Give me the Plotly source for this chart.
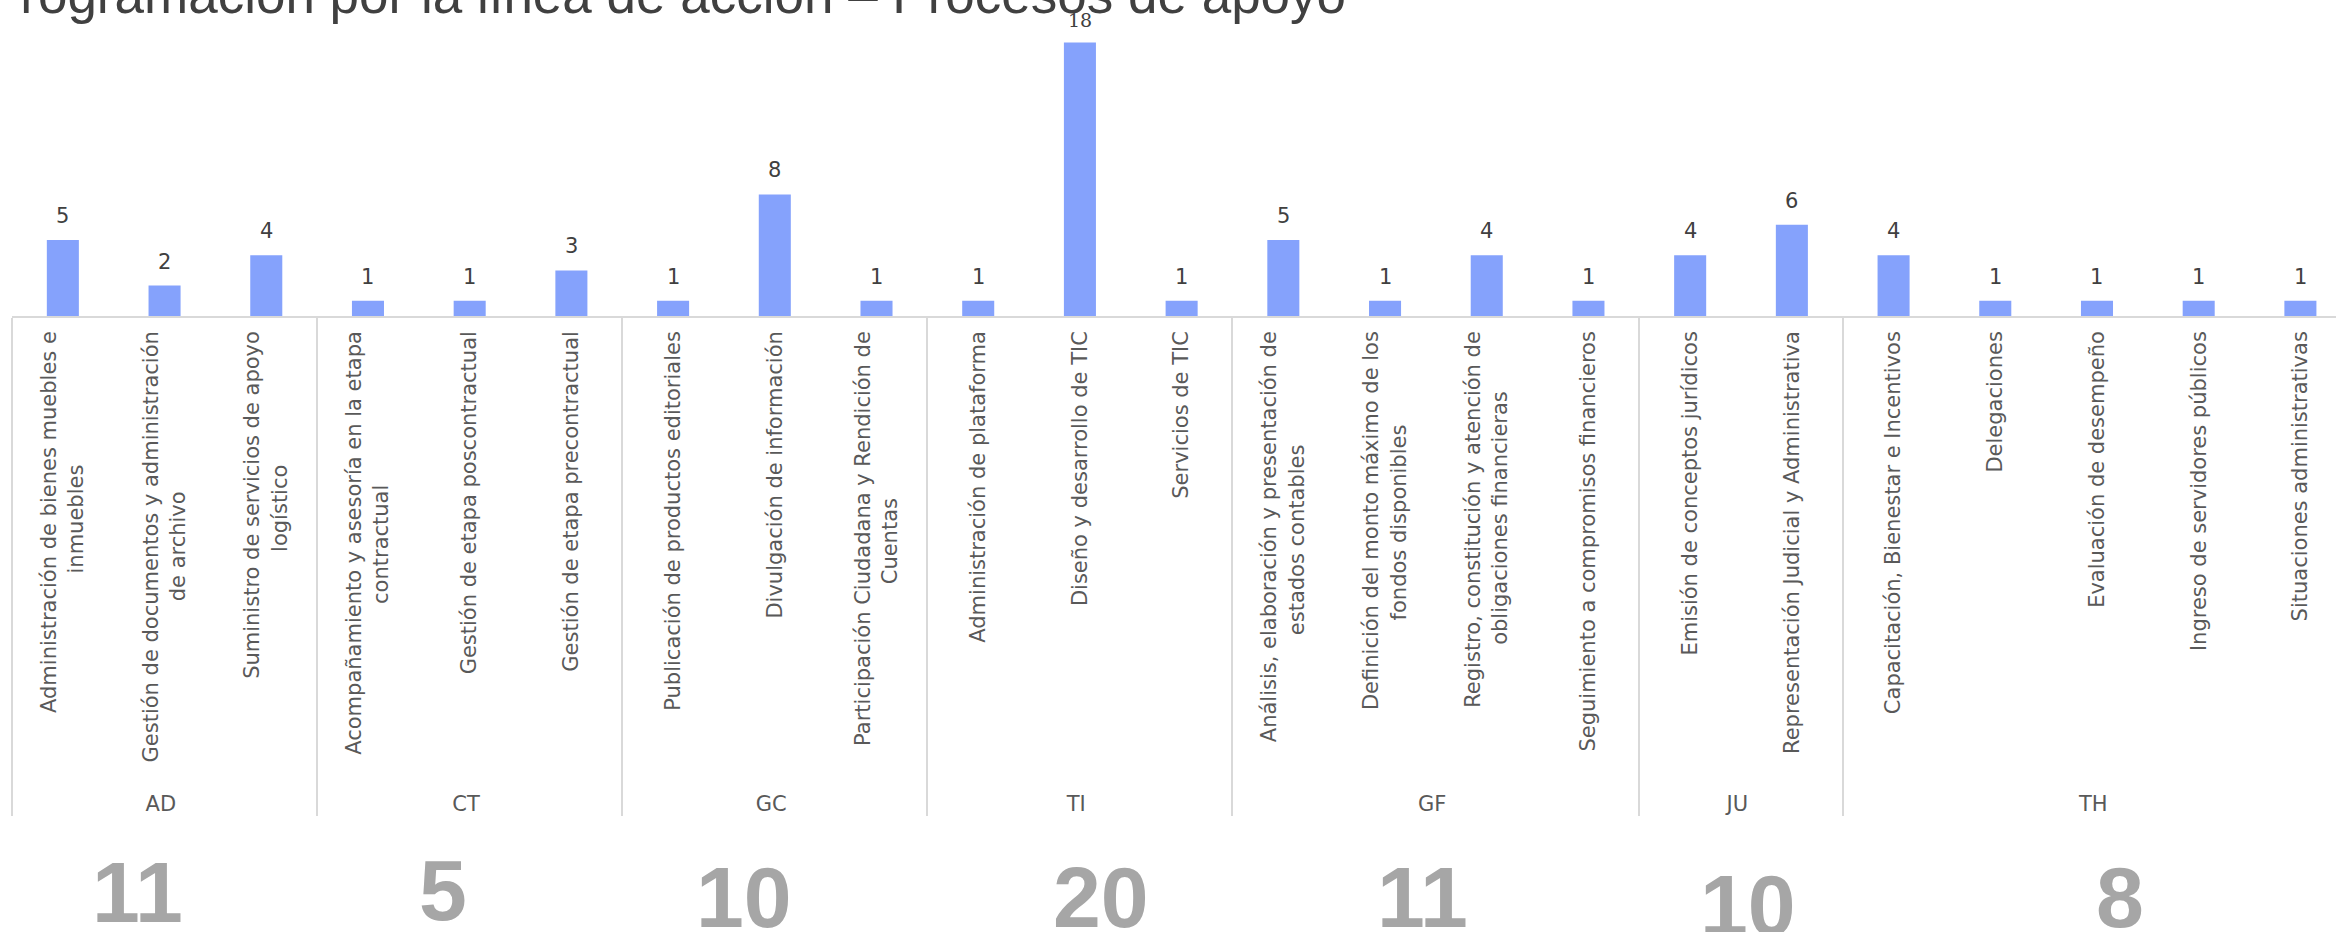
import plotly.graph_objects as go

# ---------------- data ----------------
categories = [
    "Administración de bienes muebles e<br>inmuebles",
    "Gestión de documentos y administración<br>de archivo",
    "Suministro de servicios de apoyo<br>logístico",
    "Acompañamiento y asesoría en la etapa<br>contractual",
    "Gestión de etapa poscontractual",
    "Gestión de etapa precontractual",
    "Publicación de productos editoriales",
    "Divulgación de información",
    "Participación Ciudadana y Rendición de<br>Cuentas",
    "Administración de plataforma",
    "Diseño y desarrollo de TIC",
    "Servicios de TIC",
    "Análisis, elaboración y presentación de<br>estados contables",
    "Definición del monto máximo de los<br>fondos disponibles",
    "Registro, constitución y atención de<br>obligaciones financieras",
    "Seguimiento a compromisos financieros",
    "Emisión de conceptos jurídicos",
    "Representación Judicial y Administrativa",
    "Capacitación, Bienestar e Incentivos",
    "Delegaciones",
    "Evaluación de desempeño",
    "Ingreso de servidores públicos",
    "Situaciones administrativas",
]
category_groups = ["AD", "AD", "AD", "CT", "CT", "CT", "GC", "GC", "GC",
                   "TI", "TI", "TI", "GF", "GF", "GF", "GF", "JU", "JU",
                   "TH", "TH", "TH", "TH", "TH"]
values = [5, 2, 4, 1, 1, 3, 1, 8, 1, 1, 18, 1, 5, 1, 4, 1, 4, 6, 4, 1, 1, 1, 1]

group_names = ["AD", "CT", "GC", "TI", "GF", "JU", "TH"]
group_totals = [11, 5, 10, 20, 11, 10, 8]

title_text = "Programación por la línea de acción – Procesos de apoyo"

# ---------------- layout / style settings ----------------
W, H = 2336, 932
M_L, M_R, M_T, M_B = 12.3, 0, 30, 616.3
PLOT_BOTTOM = H - M_B
Y_MAX = 18.83
BAR_COLOR = "#85A2FC"
LINE_COLOR = "#D9D9D9"
TICK_FONT = dict(family="DejaVu Sans", size=21, color="#595959")

# totals placement (x in axis units, top of digits in pixels)
total_x = [0.736, 3.735, 6.70, 10.205, 13.37, 16.57, 20.23]
total_digit_top = [858.5, 857, 864, 864, 864, 872, 864]
TOTAL_SIZE = 86

# approximate DejaVu Sans advance widths (units per 2048 em), used only to
# centre the shorter line of two-line rotated tick labels
_DV = {'a': 1255, 'b': 1300, 'c': 1126, 'd': 1300, 'e': 1260, 'f': 721, 'g': 1300,
       'h': 1298, 'i': 569, 'j': 569, 'k': 1186, 'l': 569, 'm': 1995, 'n': 1298,
       'o': 1253, 'p': 1300, 'q': 1300, 'r': 842, 's': 1067, 't': 803, 'u': 1298,
       'v': 1212, 'w': 1675, 'x': 1212, 'y': 1212, 'z': 1075, ' ': 651, ',': 651,
       'á': 1255, 'é': 1260, 'í': 569, 'ó': 1253, 'ú': 1298, 'ñ': 1298,
       'A': 1401, 'C': 1430, 'D': 1577, 'E': 1294, 'G': 1595, 'I': 604, 'J': 604,
       'R': 1423, 'S': 1300, 'P': 1235, 'T': 1251}
_SPACE = 651
LEAD = "\u00a0\u00a0"   # small invisible lead so the group row sits a little lower


def _w(s):
    return sum(_DV.get(ch, 1200) for ch in s)


def centre_lines(label):
    lines = label.split("<br>")
    widest = max(_w(l) for l in lines)
    out = []
    for l in lines:
        n = int(round((widest - _w(l)) / 2 / _SPACE))
        out.append(LEAD + l + "\u00a0" * n)
    return "<br>".join(out)


tick_labels = [centre_lines(c) for c in categories]

fig = go.Figure(
    go.Bar(
        x=[category_groups, tick_labels],
        y=values,
        marker=dict(color=BAR_COLOR, line=dict(width=0)),
        width=0.315,
        hoverinfo="skip",
    )
)

annotations = []
top_value = max(values)
for i, v in enumerate(values):
    is_top = v == top_value
    annotations.append(dict(
        x=i, y=v, xref="x", yref="y",
        text=str(v), showarrow=False,
        xanchor="center", yanchor="bottom", yshift=10,
        font=dict(family="DejaVu Serif" if is_top else "DejaVu Sans",
                  size=19 if is_top else 21, color="#404040"),
    ))

for gx, top, tot in zip(total_x, total_digit_top, group_totals):
    box_top = top - 17
    annotations.append(dict(
        x=gx, y=0, xref="x", yref="paper",
        text=f"<b>{tot}</b>", showarrow=False,
        xanchor="center", yanchor="top", yshift=-(box_top - PLOT_BOTTOM),
        font=dict(family="Liberation Sans", size=TOTAL_SIZE, color="#A6A6A6"),
    ))

fig.update_layout(
    width=W, height=H,
    margin=dict(l=M_L, r=M_R, t=M_T, b=M_B, autoexpand=False),
    paper_bgcolor="white", plot_bgcolor="white",
    showlegend=False,
    title=dict(
        text=title_text,
        font=dict(family="Liberation Sans", size=53, color="#404040"),
        xref="container", yref="container",
        x=665.5 / W, xanchor="center",
        y=1 - 12.7 / H, yanchor="bottom",
    ),
    annotations=annotations,
    xaxis=dict(
        range=[-0.5, 22.35],
        showline=True, linecolor=LINE_COLOR, linewidth=1.5,
        ticks="", tickangle=-90,
        tickfont=TICK_FONT,
        showdividers=True, dividercolor=LINE_COLOR, dividerwidth=1.5,
        ticklabelstandoff=5,
        automargin=False, showgrid=False, zeroline=False,
    ),
    yaxis=dict(
        range=[0, Y_MAX], visible=False, showgrid=False, zeroline=False,
        automargin=False,
    ),
)

fig.write_html("out.html", config={"displayModeBar": False},
               post_script="document.body.style.margin='0px';")
